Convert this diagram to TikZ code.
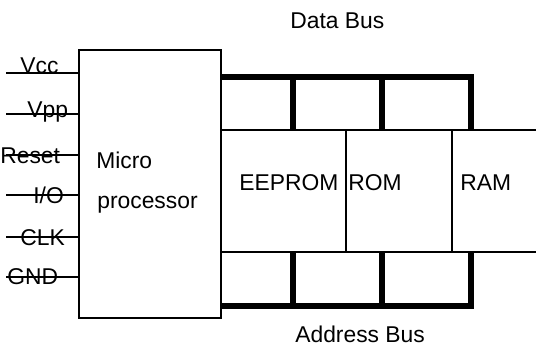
\documentclass[tikz,border=0pt]{standalone}
\usepackage{fontspec}
\setmainfont{Liberation Sans}
\usetikzlibrary{positioning}

\begin{document}
\begin{tikzpicture}[x=0.02cm,y=-0.02cm,
  thinline/.style={line width=1pt},
  busline/.style={line width=3.6pt,line join=miter},
  lbl/.style={anchor=base west,inner sep=0pt,font=\fontsize{13}{15}\selectfont}]
  \useasboundingbox (0,0) rectangle (536,355);
  % microprocessor box
  \coordinate (mpNW) at (79,50);
  \coordinate (mpSE) at (221,318);
  \draw[thinline] (mpNW) rectangle (mpSE);
  \node[lbl] (mptop) at (96,168) {Micro};
  \node[lbl] (mpbot) at (97,208) {processor};
  % pins
  \foreach \pname/\py/\px/\pb [count=\i] in
    {Vcc/73/20/73, Vpp/114/27/117, Reset/155/0/163, {I/O}/195/33/203, CLK/237/20/245, GND/277/7/284}{
    \coordinate (pin\i) at (6,\py);
    \draw[thinline] (pin\i) -- (pin\i -| mpNW);
    \node[lbl] (pinlbl\i) at (\px,\pb) {\pname};
  }
  % memory area
  \coordinate (memNW) at (221,130);
  \coordinate (memSW) at (221,252);
  \draw[thinline] (memNW) -- (536,130);
  \draw[thinline] (memSW) -- (536,252);
  \foreach \x in {346,452}{
    \draw[thinline] (\x,130) -- (\x,252);
  }
  \node[lbl] (eeprom) at (239,190) {EEPROM};
  \node[lbl] (rom) at (348,190) {ROM};
  \node[lbl] (ram) at (460,190) {RAM};
  % buses
  \draw[busline] (221,77) -- (471,77) -- (471,130);
  \draw[busline] (221,306) -- (471,306) -- (471,252);
  \foreach \x in {293,382}{
    \draw[busline] (\x,77) -- (\x,130);
    \draw[busline] (\x,252) -- (\x,306);
  }
  \node[lbl] (databus) at (290,28) {Data Bus};
  \node[lbl] (addrbus) at (295,342) {Address Bus};
\end{tikzpicture}
\end{document}
